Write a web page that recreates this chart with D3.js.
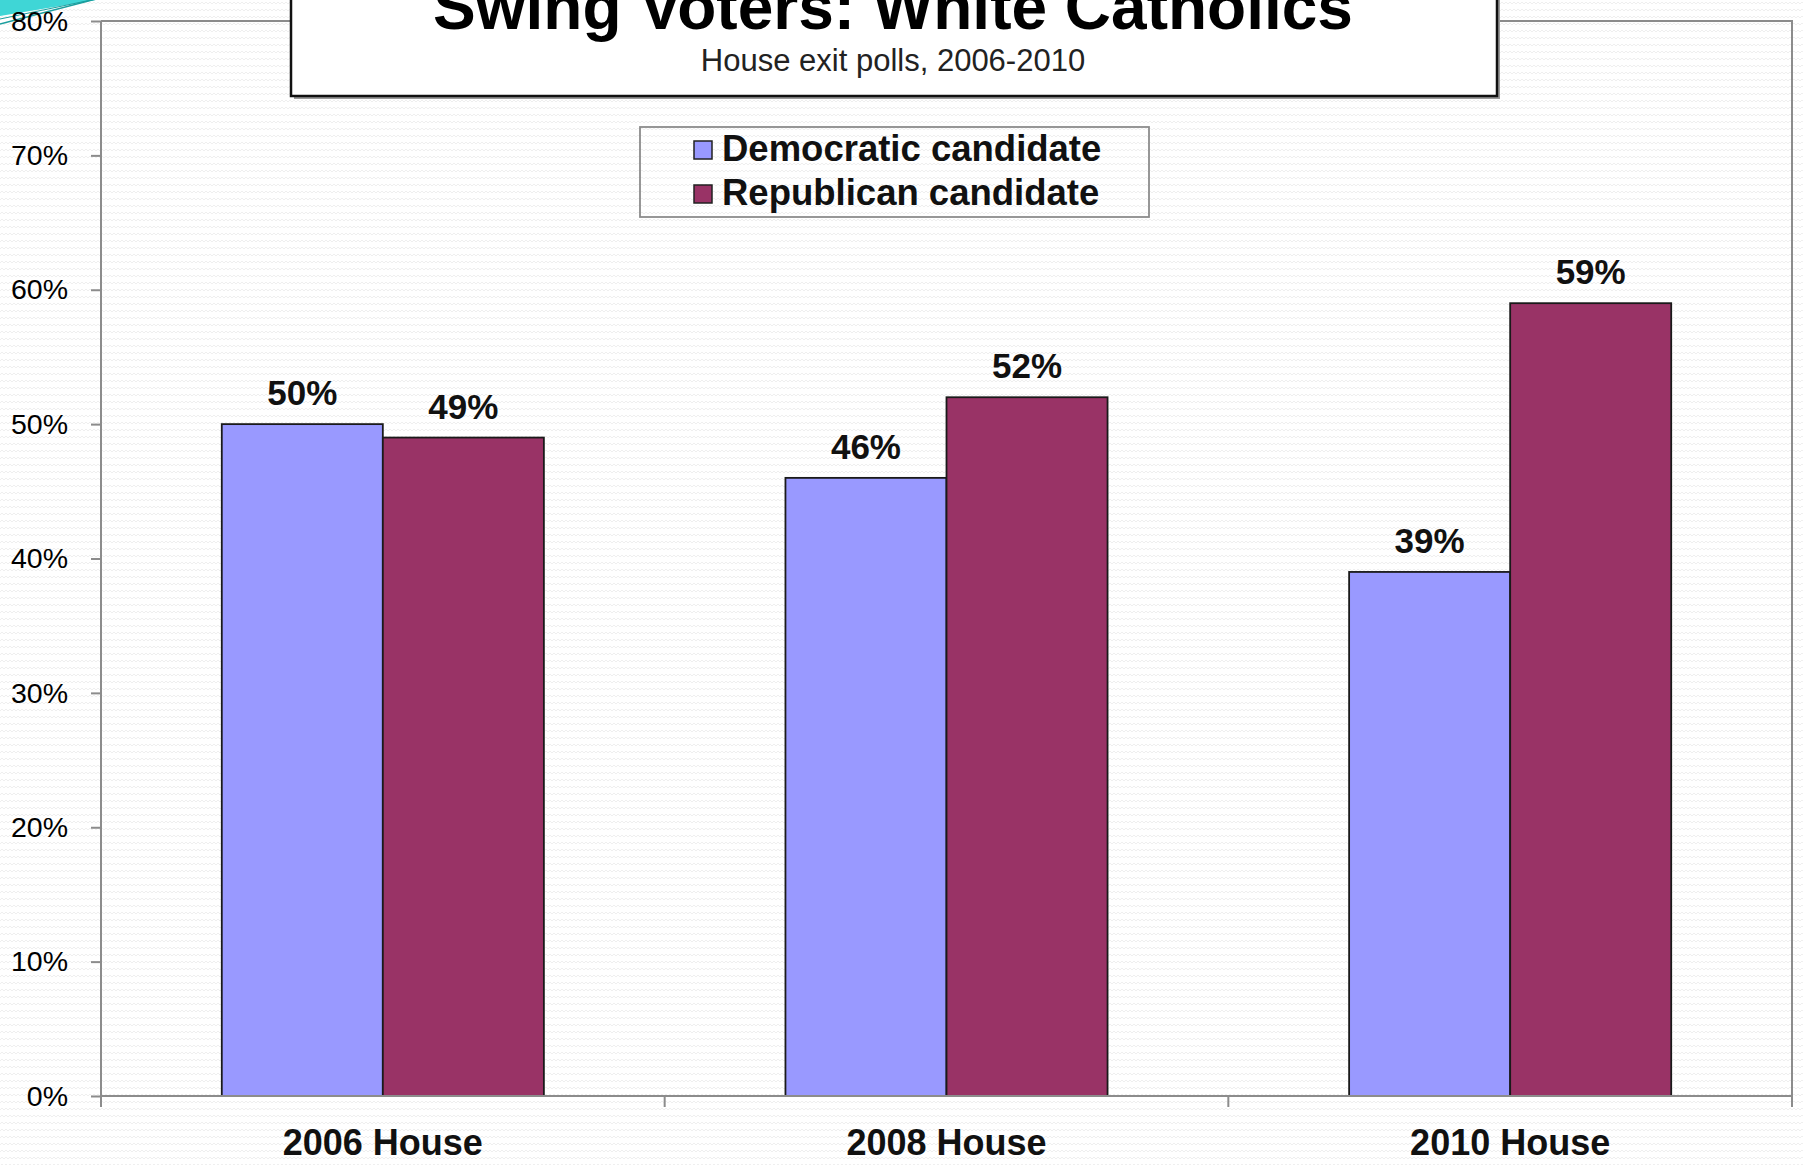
<!DOCTYPE html>
<html>
<head>
<meta charset="utf-8">
<script src="https://cdn.jsdelivr.net/npm/d3@7"></script>
<style>
  html, body { margin: 0; padding: 0; background: #ffffff; }
  svg { display: block; }
  text { font-family: "Liberation Sans", Arial, sans-serif; }
</style>
</head>
<body>
<svg id="chart" width="1803" height="1165"></svg>
<script>
// ---- data ----
const categories = ["2006 House", "2008 House", "2010 House"];
const seriesNames = ["Democratic candidate", "Republican candidate"];
const demValues = [50, 46, 39];
const repValues = [49, 52, 59];
const yTicks = [0, 10, 20, 30, 40, 50, 60, 70, 80];
const titleText = "Swing Voters: White Catholics";
const subtitleText = "House exit polls, 2006-2010";

const colors = { "Democratic candidate": "#9999FF", "Republican candidate": "#993366" };

const svg = d3.select("#chart");
const W = 1803, H = 1165;

// background texture
const defs = svg.append("defs");
const pat = defs.append("pattern").attr("id", "zig").attr("width", 8).attr("height", 7)
  .attr("patternUnits", "userSpaceOnUse");
pat.append("path").attr("d", "M0,4 L2,2 L4,4 L6,2 L8,4").attr("fill", "none")
  .attr("stroke", "#efefef").attr("stroke-width", 1);
svg.append("rect").attr("width", W).attr("height", H).attr("fill", "#ffffff");
svg.append("rect").attr("width", W).attr("height", H).attr("fill", "url(#zig)");

// corner decoration
svg.append("path").attr("d", "M0,0 L96,0 L0,16 Z").attr("fill", "#3fd6d6");
svg.append("path").attr("d", "M0,24 L96,-1").attr("stroke", "#1a9e9e").attr("stroke-width", 1.5).attr("fill", "none");
svg.append("path").attr("d", "M0,19 L96,-1").attr("stroke", "#1a9e9e").attr("stroke-width", 1).attr("fill", "none");

// plot area
const plot = { left: 101, right: 1792, top: 21, bottom: 1096 };

const y = d3.scaleLinear().domain([0, 80]).range([plot.bottom, plot.top]);
const x = d3.scaleBand().domain(categories).range([plot.left, plot.right])
  .paddingInner(1.5 / 3.5).paddingOuter(0.75 / 3.5);
const xs = d3.scaleBand().domain(seriesNames).range([0, x.bandwidth()]);

// plot border (top and right)
svg.append("path")
  .attr("d", `M${plot.left},${plot.top} L${plot.right},${plot.top} L${plot.right},${plot.bottom}`)
  .attr("fill", "none").attr("stroke", "#8c8c8c").attr("stroke-width", 2);

// bars
const rows = categories.map((c, i) => ({ cat: c, vals: [
  { s: seriesNames[0], v: demValues[i] },
  { s: seriesNames[1], v: repValues[i] } ] }));

const g = svg.append("g");
const grp = g.selectAll("g.cat").data(rows).join("g")
  .attr("transform", d => `translate(${x(d.cat)},0)`);
grp.selectAll("rect").data(d => d.vals).join("rect")
  .attr("x", d => xs(d.s))
  .attr("y", d => y(d.v))
  .attr("width", xs.bandwidth())
  .attr("height", d => y(0) - y(d.v))
  .attr("fill", d => colors[d.s])
  .attr("stroke", "#1a1a1a").attr("stroke-width", 1.8);
grp.selectAll("text.lbl").data(d => d.vals).join("text")
  .attr("class", "lbl")
  .attr("x", d => xs(d.s) + xs.bandwidth() / 2)
  .attr("y", d => y(d.v) - 19)
  .attr("text-anchor", "middle")
  .attr("font-size", 35).attr("font-weight", "bold").attr("fill", "#111")
  .text(d => d.v + "%");

// y axis
const yAxis = d3.axisLeft(y).tickValues(yTicks).tickFormat(d => d + "%").tickSize(10).tickPadding(23);
const yg = svg.append("g").attr("transform", `translate(${plot.left},0)`).call(yAxis);
yg.select(".domain").attr("stroke", "#8c8c8c").attr("stroke-width", 2)
  .attr("d", `M0,${plot.top} V${plot.bottom + 11}`);
yg.selectAll(".tick line").attr("stroke", "#8c8c8c").attr("stroke-width", 2);
yg.selectAll(".tick text").attr("font-size", 28.5).attr("fill", "#000")
  .attr("font-family", "\"Liberation Sans\", Arial, sans-serif");

// x axis: line, boundary ticks, labels
const xBound = d3.scaleLinear().domain([0, categories.length]).range([plot.left, plot.right]);
svg.append("line").attr("x1", plot.left).attr("x2", plot.right)
  .attr("y1", plot.bottom).attr("y2", plot.bottom)
  .attr("stroke", "#8c8c8c").attr("stroke-width", 2);
svg.selectAll("line.xt").data(d3.range(categories.length + 1)).join("line")
  .attr("class", "xt")
  .attr("x1", d => xBound(d)).attr("x2", d => xBound(d))
  .attr("y1", plot.bottom).attr("y2", plot.bottom + 11)
  .attr("stroke", "#8c8c8c").attr("stroke-width", 2);
const xAxis = d3.axisBottom(x).tickSize(0).tickPadding(0);
const xg = svg.append("g").attr("transform", `translate(0,${plot.bottom})`).call(xAxis);
xg.select(".domain").remove();
xg.selectAll(".tick text").attr("dy", null).attr("y", 59)
  .attr("font-size", 36).attr("font-weight", "bold").attr("fill", "#111")
  .attr("font-family", "\"Liberation Sans\", Arial, sans-serif");

// title box
const tb = { x: 291, y: -10, w: 1206, h: 106 };
svg.append("rect").attr("x", tb.x + 3).attr("y", tb.y + 3).attr("width", tb.w).attr("height", tb.h)
  .attr("fill", "#9a9a9a");
svg.append("rect").attr("x", tb.x).attr("y", tb.y).attr("width", tb.w).attr("height", tb.h)
  .attr("fill", "#ffffff").attr("stroke", "#111").attr("stroke-width", 2.5);
svg.append("text").attr("x", 893).attr("y", 29)
  .attr("text-anchor", "middle").attr("font-size", 64).attr("font-weight", "bold").attr("fill", "#000")
  .text(titleText);
svg.append("text").attr("x", 893).attr("y", 71)
  .attr("text-anchor", "middle").attr("font-size", 31).attr("fill", "#222")
  .text(subtitleText);

// legend
const lg = svg.append("g").attr("transform", "translate(640,127)");
lg.append("rect").attr("width", 509).attr("height", 90)
  .attr("fill", "none").attr("stroke", "#8c8c8c").attr("stroke-width", 1.8);
const li = lg.selectAll("g.li").data(seriesNames).join("g").attr("class", "li")
  .attr("transform", (d, i) => `translate(54,${14 + i * 44})`);
li.append("rect").attr("width", 18).attr("height", 18)
  .attr("fill", d => colors[d]).attr("stroke", "#222").attr("stroke-width", 1.5);
li.append("text").attr("x", 28).attr("y", 20)
  .attr("font-size", 36.5).attr("font-weight", "bold").attr("fill", "#111")
  .text(d => d);
</script>
</body>
</html>
